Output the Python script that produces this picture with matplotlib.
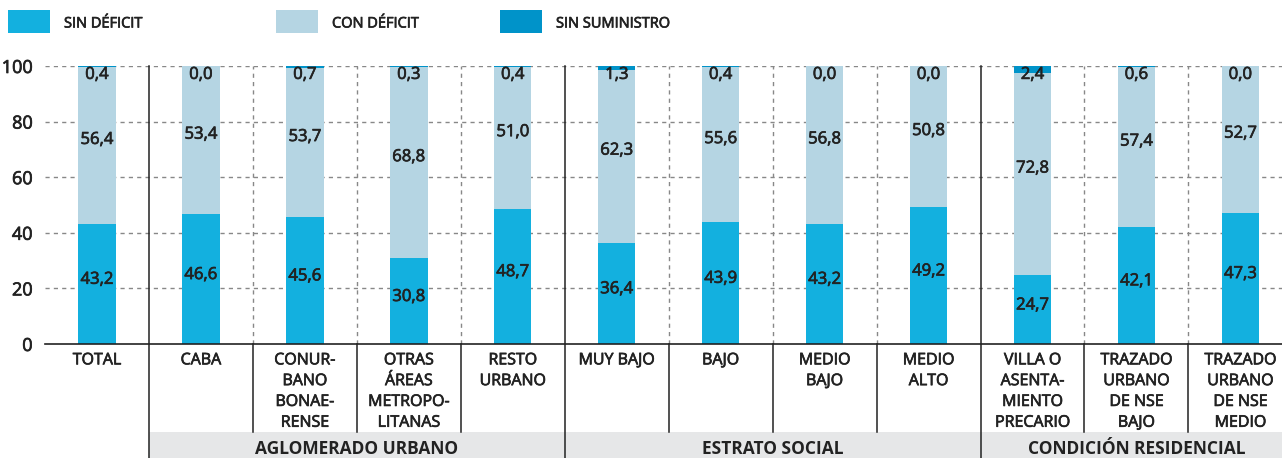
import matplotlib.pyplot as plt
import matplotlib.patheffects as pe
from matplotlib.patches import Rectangle

plt.rcParams['font.family'] = ['Open Sans', 'DejaVu Sans']

# data
categories = ['TOTAL', 'CABA', 'CONUR-\nBANO\nBONAE-\nRENSE', 'OTRAS\nÁREAS\nMETROPO-\nLITANAS',
              'RESTO\nURBANO', 'MUY BAJO', 'BAJO', 'MEDIO\nBAJO', 'MEDIO\nALTO',
              'VILLA O\nASENTA-\nMIENTO\nPRECARIO', 'TRAZADO\nURBANO\nDE NSE\nBAJO',
              'TRAZADO\nURBANO\nDE NSE\nMEDIO']
sin_deficit = [43.2, 46.6, 45.6, 30.8, 48.7, 36.4, 43.9, 43.2, 49.2, 24.7, 42.1, 47.3]
con_deficit = [56.4, 53.4, 53.7, 68.8, 51.0, 62.3, 55.6, 56.8, 50.8, 72.8, 57.4, 52.7]
sin_suministro = [0.4, 0.0, 0.7, 0.3, 0.4, 1.3, 0.4, 0.0, 0.0, 2.4, 0.6, 0.0]
groups = ['AGLOMERADO URBANO', 'ESTRATO SOCIAL', 'CONDICIÓN RESIDENCIAL']
group_spans = [(1, 5), (5, 9), (9, 12)]  # first index, end index

c_sin = '#13b0df'
c_con = '#b5d5e3'
c_sum = '#0093c9'
dark = '#222222'
# Open Sans has no medium weight here, thicken a little with a stroke
thick = [pe.withStroke(linewidth=0.5, foreground=dark)]

fig = plt.figure(figsize=(12.82, 4.58), dpi=100)
ax = fig.add_axes([45 / 1282, 114 / 458, 1 - 45 / 1282, 278 / 458])

x = list(range(len(categories)))
w = 0.36
ax.bar(x, sin_deficit, w, color=c_sin, zorder=3)
ax.bar(x, con_deficit, w, bottom=sin_deficit, color=c_con, zorder=3)
tops = [a + b for a, b in zip(sin_deficit, con_deficit)]
ax.bar(x, sin_suministro, w, bottom=tops, color=c_sum, zorder=3)

def fmt(v):
    return f'{v:.1f}'.replace('.', ',')

for i in x:
    ax.text(i, sin_deficit[i] / 2 + 1.5, fmt(sin_deficit[i]), ha='center', va='center',
            fontsize=12, color=dark, zorder=4, path_effects=thick)
    ax.text(i, sin_deficit[i] + con_deficit[i] / 2 + 2, fmt(con_deficit[i]), ha='center',
            va='center', fontsize=12, color=dark, zorder=4, path_effects=thick)
    ax.text(i, 96.8, fmt(sin_suministro[i]), ha='center', va='center',
            fontsize=12, color=dark, zorder=4, path_effects=thick)

ax.set_xlim(-0.5, 11.4)
ax.set_ylim(0, 100)
ax.set_yticks([0, 20, 40, 60, 80, 100])
ax.tick_params(axis='y', length=0, labelsize=13, pad=9, labelcolor=dark)
ax.set_xticks(x)
ax.set_xticklabels(categories, fontsize=11.5, color=dark, linespacing=1.4)
ax.tick_params(axis='x', length=0, pad=6)
for lbl in ax.get_xticklabels() + ax.get_yticklabels():
    lbl.set_path_effects(thick)
for s in ['top', 'right', 'left']:
    ax.spines[s].set_visible(False)
ax.spines['bottom'].set_color(dark)
ax.spines['bottom'].set_linewidth(1.2)
ax.spines['bottom'].set_zorder(5)

for yv in [20, 40, 60, 80, 100]:
    ax.axhline(yv, color='#888888', ls=(0, (3, 3)), lw=1, zorder=1)

# separators
trans = ax.get_xaxis_transform()
band_top = -0.3165
band_bot = -0.42
solid_seps = [0.5, 4.5, 8.5]
for k in range(11):
    xs = k + 0.5
    if xs in solid_seps:
        ax.plot([xs, xs], [1, band_bot], transform=trans, color=dark, lw=1.1,
                clip_on=False, zorder=2)
    else:
        ax.plot([xs, xs], [0, 1], transform=trans, color='#888888', lw=1,
                ls=(0, (3, 3)), zorder=1)
        ax.plot([xs, xs], [0, band_top], transform=trans, color=dark, lw=1.1,
                clip_on=False)

# group bands
ax.add_patch(Rectangle((0.5, band_bot), 11.4 - 0.5, band_top - band_bot, transform=trans,
                       facecolor='#e6e7e8', edgecolor='none', clip_on=False, zorder=0))
for g, (a, b) in zip(groups, group_spans):
    xc = (a - 0.5 + b - 0.5) / 2
    ax.text(xc, (band_top + band_bot) / 2 - 0.01, g, transform=trans, ha='center',
            va='center', fontsize=12.5, fontweight='bold', color=dark)

# legend
leg = [('SIN DÉFICIT', c_sin, 8), ('CON DÉFICIT', c_con, 276), ('SIN SUMINISTRO', c_sum, 500)]
for label, col, px in leg:
    fig.patches.append(Rectangle((px / 1282, 1 - 33 / 458), 42 / 1282, 23 / 458,
                                 transform=fig.transFigure, facecolor=col, edgecolor='none'))
    fig.text((px + 56) / 1282, 1 - 24 / 458, label, fontsize=10.5, color=dark,
             va='center', ha='left', path_effects=thick)

fig.savefig('out.png', dpi=100)
